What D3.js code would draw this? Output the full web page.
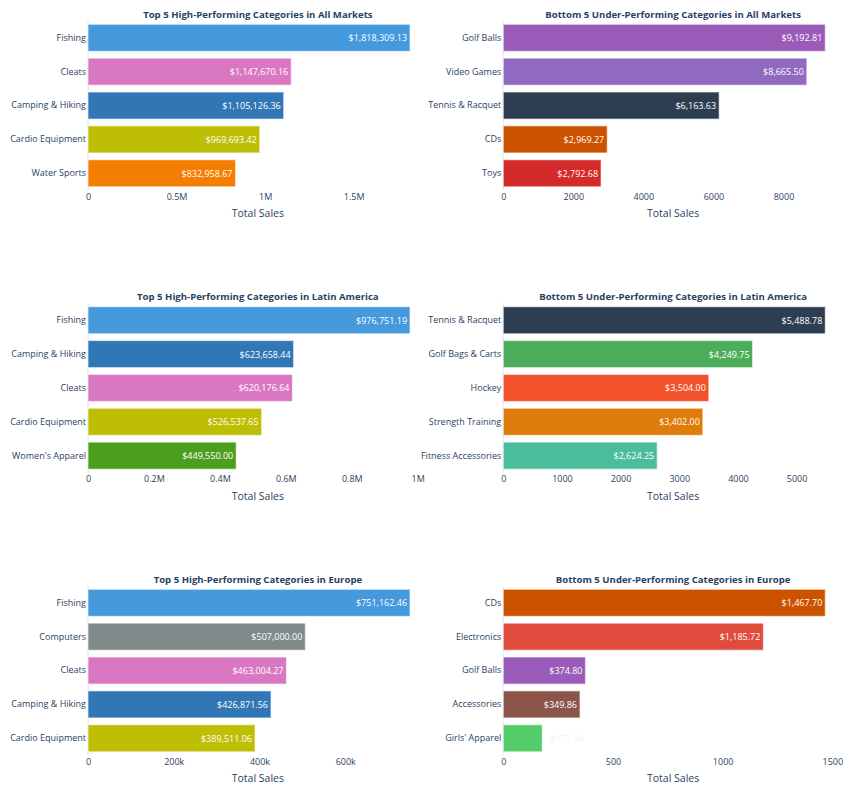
<!DOCTYPE html>
<html>
<head>
<meta charset="utf-8">
<script src="https://cdn.jsdelivr.net/npm/d3@7"></script>
<style>
  html, body { margin: 0; padding: 0; background: #fff; }
  svg { display: block; font-family: "Open Sans", verdana, arial, sans-serif; }
</style>
</head>
<body>
<svg id="chart" width="845" height="789"></svg>
<script>
// ---------- DATA ----------
const titles = [
  "Top 5 High-Performing Categories in All Markets",
  "Bottom 5 Under-Performing Categories in All Markets",
  "Top 5 High-Performing Categories in Latin America",
  "Bottom 5 Under-Performing Categories in Latin America",
  "Top 5 High-Performing Categories in Europe",
  "Bottom 5 Under-Performing Categories in Europe"
];

const allTopCats = ["Fishing", "Cleats", "Camping & Hiking", "Cardio Equipment", "Water Sports"];
const allTopVals = [1818309.13, 1147670.16, 1105126.36, 969693.42, 832958.67];
const allTopColors = ["#4599dd", "#da77c3", "#3177b5", "#bebe05", "#f47e00"];

const allBotCats = ["Golf Balls", "Video Games", "Tennis & Racquet", "CDs", "Toys"];
const allBotVals = [9192.81, 8665.50, 6163.63, 2969.27, 2792.68];
const allBotColors = ["#9b5bb8", "#906ac0", "#2e3e52", "#cd5200", "#d42a2a"];

const latTopCats = ["Fishing", "Camping & Hiking", "Cleats", "Cardio Equipment", "Women's Apparel"];
const latTopVals = [976751.19, 623658.44, 620176.64, 526537.65, 449550.00];
const latTopColors = ["#4599dd", "#3177b5", "#da77c3", "#bebe05", "#4c9e1e"];

const latBotCats = ["Tennis & Racquet", "Golf Bags & Carts", "Hockey", "Strength Training", "Fitness Accessories"];
const latBotVals = [5488.78, 4249.75, 3504.00, 3402.00, 2624.25];
const latBotColors = ["#2e3e52", "#4cad5a", "#f2522a", "#df7c0a", "#4abd9c"];

const eurTopCats = ["Fishing", "Computers", "Cleats", "Camping & Hiking", "Cardio Equipment"];
const eurTopVals = [751162.46, 507000.00, 463004.27, 426871.56, 389511.06];
const eurTopColors = ["#4599dd", "#7f8b8a", "#da77c3", "#3177b5", "#bebe05"];

const eurBotCats = ["CDs", "Electronics", "Golf Balls", "Accessories", "Girls' Apparel"];
const eurBotVals = [1467.70, 1185.72, 374.80, 349.86, 177.84];
const eurBotColors = ["#cd5200", "#df4c3e", "#9b5bb8", "#8b5649", "#55cc6a"];

const tickVals = [
  [0, 500000, 1000000, 1500000],
  [0, 2000, 4000, 6000, 8000],
  [0, 200000, 400000, 600000, 800000, 1000000],
  [0, 1000, 2000, 3000, 4000, 5000],
  [0, 200000, 400000, 600000],
  [0, 500, 1000, 1500]
];
const tickLabels = [
  ["0", "0.5M", "1M", "1.5M"],
  ["0", "2000", "4000", "6000", "8000"],
  ["0", "0.2M", "0.4M", "0.6M", "0.8M", "1M"],
  ["0", "1000", "2000", "3000", "4000", "5000"],
  ["0", "200k", "400k", "600k"],
  ["0", "500", "1000", "1500"]
];
const axisTitle = "Total Sales";

const panelCats = [allTopCats, allBotCats, latTopCats, latBotCats, eurTopCats, eurBotCats];
const panelVals = [allTopVals, allBotVals, latTopVals, latBotVals, eurTopVals, eurBotVals];
const panelColors = [allTopColors, allBotColors, latTopColors, latBotColors, eurTopColors, eurBotColors];

// ---------- LAYOUT ----------
const colX = [88, 503.25];
const colW = 339.75;
const rowY = [20.9, 303.3, 585.9];
const rowH = 169.3;
const rangePad = 1.055;
const textColor = "#2a3f5f";
const fmt = d3.format(",.2f");

const svg = d3.select("#chart");

panelCats.forEach((cats, i) => {
  const vals = panelVals[i];
  const colors = panelColors[i];
  const col = i % 2, row = Math.floor(i / 2);
  const g = svg.append("g").attr("transform", `translate(${colX[col]},${rowY[row]})`);

  const x = d3.scaleLinear().domain([0, d3.max(vals) * rangePad]).range([0, colW]);
  const y = d3.scaleBand().domain(cats).range([0, rowH]).paddingInner(0.2).paddingOuter(0.1);

  // zero line
  g.append("line")
    .attr("x1", x(0)).attr("x2", x(0))
    .attr("y1", 0).attr("y2", rowH)
    .attr("stroke", "#ebf0f8").attr("stroke-width", 2);

  // bars
  g.selectAll("rect.bar").data(cats).join("rect")
    .attr("class", "bar")
    .attr("x", x(0))
    .attr("y", d => y(d))
    .attr("width", (d, k) => x(vals[k]) - x(0))
    .attr("height", y.bandwidth())
    .attr("fill", (d, k) => colors[k])
    .attr("stroke", "rgba(255,255,255,0.55)")
    .attr("stroke-width", 1.2);

  // bar labels
  g.selectAll("text.val").data(cats).join("text")
    .attr("class", "val")
    .attr("y", d => y(d) + y.bandwidth() / 2)
    .attr("dominant-baseline", "central")
    .attr("font-size", 9)
    .attr("fill", "#ffffff")
    .text((d, k) => "$" + fmt(vals[k]))
    .each(function (d, k) {
      const w = this.getComputedTextLength();
      const bw = x(vals[k]) - x(0);
      const sel = d3.select(this);
      if (w + 6 <= bw) {
        sel.attr("x", x(vals[k]) - 3).attr("text-anchor", "end");
      } else {
        sel.attr("x", x(vals[k]) + 8).attr("text-anchor", "start").attr("fill", "#f3f4f6");
      }
    });

  // y axis labels
  const yAxis = d3.axisLeft(y).tickSize(0).tickPadding(2);
  const ya = g.append("g").call(yAxis);
  ya.select(".domain").remove();
  ya.selectAll("text").attr("font-size", 9).attr("fill", textColor)
    .attr("font-family", "'Open Sans', verdana, arial, sans-serif");

  // x axis
  const xAxis = d3.axisBottom(x).tickValues(tickVals[i])
    .tickFormat((d, k) => tickLabels[i][k]).tickSize(0).tickPadding(3);
  const xa = g.append("g").attr("transform", `translate(0,${rowH})`).call(xAxis);
  xa.select(".domain").remove();
  xa.selectAll("text").attr("font-size", 9).attr("fill", textColor)
    .attr("font-family", "'Open Sans', verdana, arial, sans-serif");

  // axis title
  g.append("text")
    .attr("x", colW / 2).attr("y", rowH + 27)
    .attr("text-anchor", "middle")
    .attr("font-size", 10.5)
    .attr("fill", textColor)
    .text(axisTitle);

  // subplot title
  g.append("text")
    .attr("x", colW / 2).attr("y", -3)
    .attr("text-anchor", "middle")
    .attr("font-size", 9.6)
    .attr("font-weight", "bold")
    .attr("fill", textColor)
    .text(titles[i]);
});
</script>
</body>
</html>
